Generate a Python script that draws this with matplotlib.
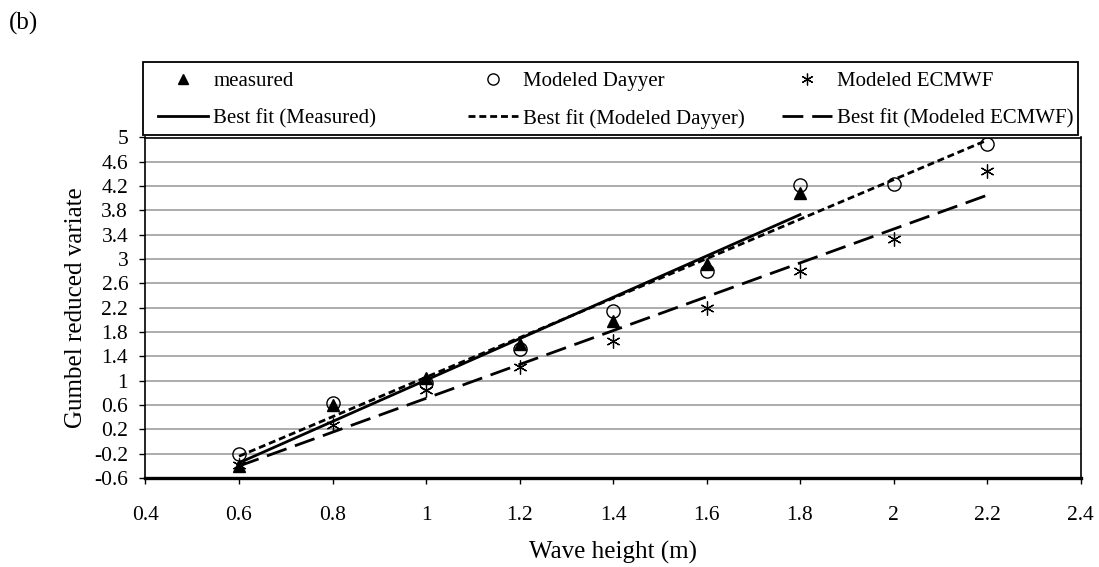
import numpy as np
import matplotlib
matplotlib.use("Agg")
import matplotlib.pyplot as plt
from matplotlib.patches import Rectangle

plt.rcParams['font.family'] = ['Liberation Serif', 'DejaVu Serif']

# measured points (0.6 - 1.8 m)
x_meas = [0.6, 0.8, 1.0, 1.2, 1.4, 1.6, 1.8]
y_meas = [-0.41, 0.60, 1.05, 1.60, 1.99, 2.92, 4.08]

# modelled points (0.6 - 2.2 m)
x_mod = [0.6, 0.8, 1.0, 1.2, 1.4, 1.6, 1.8, 2.0, 2.2]
y_dayyer = [-0.20, 0.63, 0.97, 1.52, 2.14, 2.80, 4.22, 4.23, 4.90]
y_ecmwf = [-0.38, 0.27, 0.85, 1.22, 1.66, 2.20, 2.81, 3.33, 4.45]

xticks = [0.4, 0.6, 0.8, 1.0, 1.2, 1.4, 1.6, 1.8, 2.0, 2.2, 2.4]
xlabels = ['0.4', '0.6', '0.8', '1', '1.2', '1.4', '1.6', '1.8', '2', '2.2', '2.4']
yticks = [-0.6, -0.2, 0.2, 0.6, 1.0, 1.4, 1.8, 2.2, 2.6, 3.0, 3.4, 3.8, 4.2, 4.6, 5.0]
ylabels = ['-0.6', '-0.2', '0.2', '0.6', '1', '1.4', '1.8', '2.2', '2.6', '3',
           '3.4', '3.8', '4.2', '4.6', '5']


def fit_line(xs, ys):
    k, b = np.polyfit(xs, ys, 1)
    xx = np.array([xs[0], xs[-1]])
    return xx, k * xx + b


W, H = 1099, 567
fig = plt.figure(figsize=(W / 100, H / 100), dpi=100)
ax = fig.add_axes([145.5 / W, 1 - 478 / H, 935 / W, 340.5 / H])

ax.grid(axis='y', color='#a6a6a6', lw=1.3, zorder=0)

h1, = ax.plot(x_meas, y_meas, ls='none', marker='^', ms=8, color='black',
              label='measured', zorder=4)
h2, = ax.plot(x_mod, y_dayyer, ls='none', marker='o', ms=9.5, mfc='none',
              mec='black', mew=1.0, label='Modeled Dayyer', zorder=4)
h3, = ax.plot(x_mod, y_ecmwf, ls='none', marker=(6, 2, 0), ms=10, color='black',
              mew=0.9, label='Modeled ECMWF', zorder=4)

xx, yy = fit_line(x_meas, y_meas)
f1, = ax.plot(xx, yy, color='black', lw=2, label='Best fit (Measured)', zorder=3)
xx, yy = fit_line(x_mod, y_dayyer)
f2, = ax.plot(xx, yy, color='black', lw=2, dashes=(2.5, 1.4),
              label='Best fit (Modeled Dayyer)', zorder=3)
xx, yy = fit_line(x_mod, y_ecmwf)
f3, = ax.plot(xx, yy, color='black', lw=2, dashes=(7.5, 3.2),
              label='Best fit (Modeled ECMWF)', zorder=3)

ax.set_xlim(0.4, 2.4)
ax.set_ylim(-0.6, 5.0)
ax.set_xticks(xticks)
ax.set_xticklabels(xlabels)
ax.set_yticks(yticks)
ax.set_yticklabels(ylabels)
ax.tick_params(axis='both', direction='out', length=4.5, width=1, labelsize=15.5,
               color='black')
ax.tick_params(axis='x', pad=16)
ax.tick_params(axis='y', pad=8)

for s in ax.spines.values():
    s.set_color('black')
    s.set_linewidth(1.2)
ax.spines['bottom'].set_linewidth(2.4)

ax.set_xlabel('Wave height (m)', fontsize=18, labelpad=11)
ax.set_ylabel('Gumbel reduced variate', fontsize=18, labelpad=5)

# legend: frame plus three equally spaced columns
fig.patches.append(Rectangle((143 / W, 1 - 135 / H), 935 / W, 73 / H,
                             transform=fig.transFigure, fill=False,
                             edgecolor='black', lw=1.3))
for hs, x0 in zip([[h1, f1], [h2, f2], [h3, f3]], [158, 468, 782]):
    fig.legend(handles=hs, labels=[h.get_label() for h in hs],
               loc='center left', bbox_to_anchor=(x0 / W, 1 - 100 / H),
               frameon=False, fontsize=15, handlelength=2.4,
               handletextpad=0.25, labelspacing=0.85, borderpad=0,
               borderaxespad=0, markerscale=0.85)

fig.text(9 / W, 1 - 12 / H, '(b)', fontsize=18, va='top', ha='left')

fig.savefig('out.png', dpi=100)
